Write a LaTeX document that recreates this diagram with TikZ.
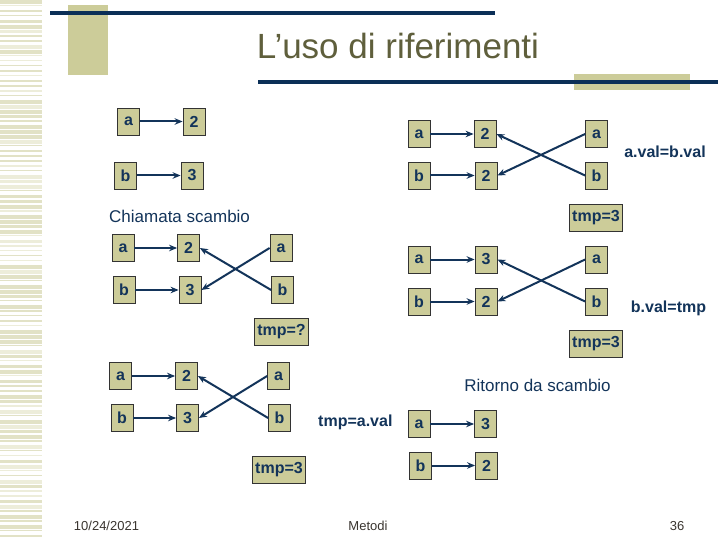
\documentclass[tikz,border=0pt]{standalone}
\usepackage{fontspec}
\setmainfont{Liberation Sans}
\usetikzlibrary{arrows.meta}
\definecolor{boxfill}{HTML}{CCCC99}
\definecolor{boxborder}{HTML}{333333}
\definecolor{navy}{HTML}{13345A}
\definecolor{linenavy}{HTML}{0B2F57}
\definecolor{olive}{HTML}{5F5F3C}
\definecolor{stripe}{HTML}{E2E2C6}
\definecolor{stripelt}{HTML}{EDEDDA}
\definecolor{foot}{HTML}{3A3530}
\tikzset{
  vbox/.style={draw=boxborder, line width=0.8pt, fill=boxfill, minimum width=22pt, minimum height=27pt, inner sep=0pt, text=navy, font=\fontsize{16}{16}\selectfont\bfseries},
  tbox/.style={draw=boxborder, line width=0.8pt, fill=boxfill, minimum height=27pt, inner sep=2.5pt, text=navy, font=\fontsize{16}{16}\selectfont\bfseries},
  arr/.style={draw=navy, line width=2pt, -{Stealth[length=8pt,width=6.5pt]}},
  side/.style={text=navy, font=\fontsize{16}{16}\selectfont\bfseries, inner sep=0pt},
  head/.style={text=navy, font=\fontsize{17}{17}\selectfont, inner sep=0pt},
  foottxt/.style={text=foot, font=\fontsize{13}{13}\selectfont, inner sep=0pt},
  deco/.style={fill=boxfill, draw=none},
  rule/.style={fill=linenavy, draw=none}
}
\begin{document}
\begin{tikzpicture}[x=1pt,y=-1pt]
\useasboundingbox (0,0) rectangle (720,540);
\fill[white] (0,0) rectangle (720,540);
% left stripes
\pgfmathsetseed{4711}
\foreach \y in {0,5,...,535} {
  \pgfmathrandominteger{\h}{1}{4}
  \pgfmathrandominteger{\k}{0}{2}
  \ifnum\k=0 \fill[stripelt] (0,\y) rectangle (42,\y+\h); \else \fill[stripe] (0,\y) rectangle (42,\y+\h); \fi
}
% title decorations
\fill[deco] (68,5) rectangle (108,75);
\fill[rule] (50,11.5) rectangle (495,15.5);
\fill[deco] (574,74) rectangle (690,90);
\fill[rule] (258,80.5) rectangle (718,84);
\node[text=olive, font=\fontsize{35}{35}\selectfont, inner sep=0pt] (title) at (398,46) {L’uso di riferimenti};

% group 1
\node[vbox] (a1) at (128.5,121.5) {a};
\node[vbox] (v1a) at (194,121.5) {2};
\node[vbox] (b1) at (125.5,175.5) {b};
\node[vbox] (v1b) at (192,175.5) {3};
\draw[arr] (a1) -- (v1a);
\draw[arr] (b1) -- (v1b);
\node[head, anchor=west] (chiam) at (109,216) {Chiamata scambio};

% group 2
\node[vbox] (a2) at (123,248) {a};
\node[vbox] (v2a) at (188.5,248) {2};
\node[vbox] (ra2) at (281,248) {a};
\node[vbox] (b2) at (124,290) {b};
\node[vbox] (v2b) at (190,290) {3};
\node[vbox] (rb2) at (282.5,290) {b};
\node[tbox] (t2) at (281.5,332) {tmp=?};
\draw[arr] (a2) -- (v2a);
\draw[arr] (b2) -- (v2b);
\draw[arr] (ra2.west) -- (v2b.east);
\draw[arr] (rb2.west) -- (v2a.east);

% group 3
\node[vbox] (a3) at (120.5,376) {a};
\node[vbox] (v3a) at (186.5,376) {2};
\node[vbox] (ra3) at (278.5,376) {a};
\node[vbox] (b3) at (122,418) {b};
\node[vbox] (v3b) at (187.5,418) {3};
\node[vbox] (rb3) at (279.5,418) {b};
\node[tbox] (t3) at (279,469.5) {tmp=3};
\draw[arr] (a3) -- (v3a);
\draw[arr] (b3) -- (v3b);
\draw[arr] (ra3.west) -- (v3b.east);
\draw[arr] (rb3.west) -- (v3a.east);
\node[side, anchor=west] (l3) at (318,422) {tmp=a.val};

% group 4
\node[vbox] (a4) at (419,134) {a};
\node[vbox] (v4a) at (485,134) {2};
\node[vbox] (ra4) at (596.5,134) {a};
\node[vbox] (b4) at (419,175.5) {b};
\node[vbox] (v4b) at (486,175.5) {2};
\node[vbox] (rb4) at (596.5,175.5) {b};
\node[tbox] (t4) at (596,217.5) {tmp=3};
\draw[arr] (a4) -- (v4a);
\draw[arr] (b4) -- (v4b);
\draw[arr] (ra4.west) -- (v4b.east);
\draw[arr] (rb4.west) -- (v4a.east);
\node[side] (l4) at (665,152) {a.val=b.val};

% group 5
\node[vbox] (a5) at (419,259.5) {a};
\node[vbox] (v5a) at (486,259.5) {3};
\node[vbox] (ra5) at (596.5,259.5) {a};
\node[vbox] (b5) at (419,301.5) {b};
\node[vbox] (v5b) at (486,301.5) {2};
\node[vbox] (rb5) at (596.5,301.5) {b};
\node[tbox] (t5) at (596,343.5) {tmp=3};
\draw[arr] (a5) -- (v5a);
\draw[arr] (b5) -- (v5b);
\draw[arr] (ra5.west) -- (v5b.east);
\draw[arr] (rb5.west) -- (v5a.east);
\node[side] (l5) at (668.5,308) {b.val=tmp};

% return
\node[head] (rit) at (537.5,385) {Ritorno da scambio};
\node[vbox] (a6) at (419,424) {a};
\node[vbox] (v6a) at (485.5,424) {3};
\node[vbox] (b6) at (420.5,465.5) {b};
\node[vbox] (v6b) at (486.5,465.5) {2};
\draw[arr] (a6) -- (v6a);
\draw[arr] (b6) -- (v6b);

% footer
\node[foottxt] (date) at (106.5,526) {10/24/2021};
\node[foottxt] (met) at (368,526) {Metodi};
\node[foottxt] (pg) at (677,526) {36};
\end{tikzpicture}
\end{document}
